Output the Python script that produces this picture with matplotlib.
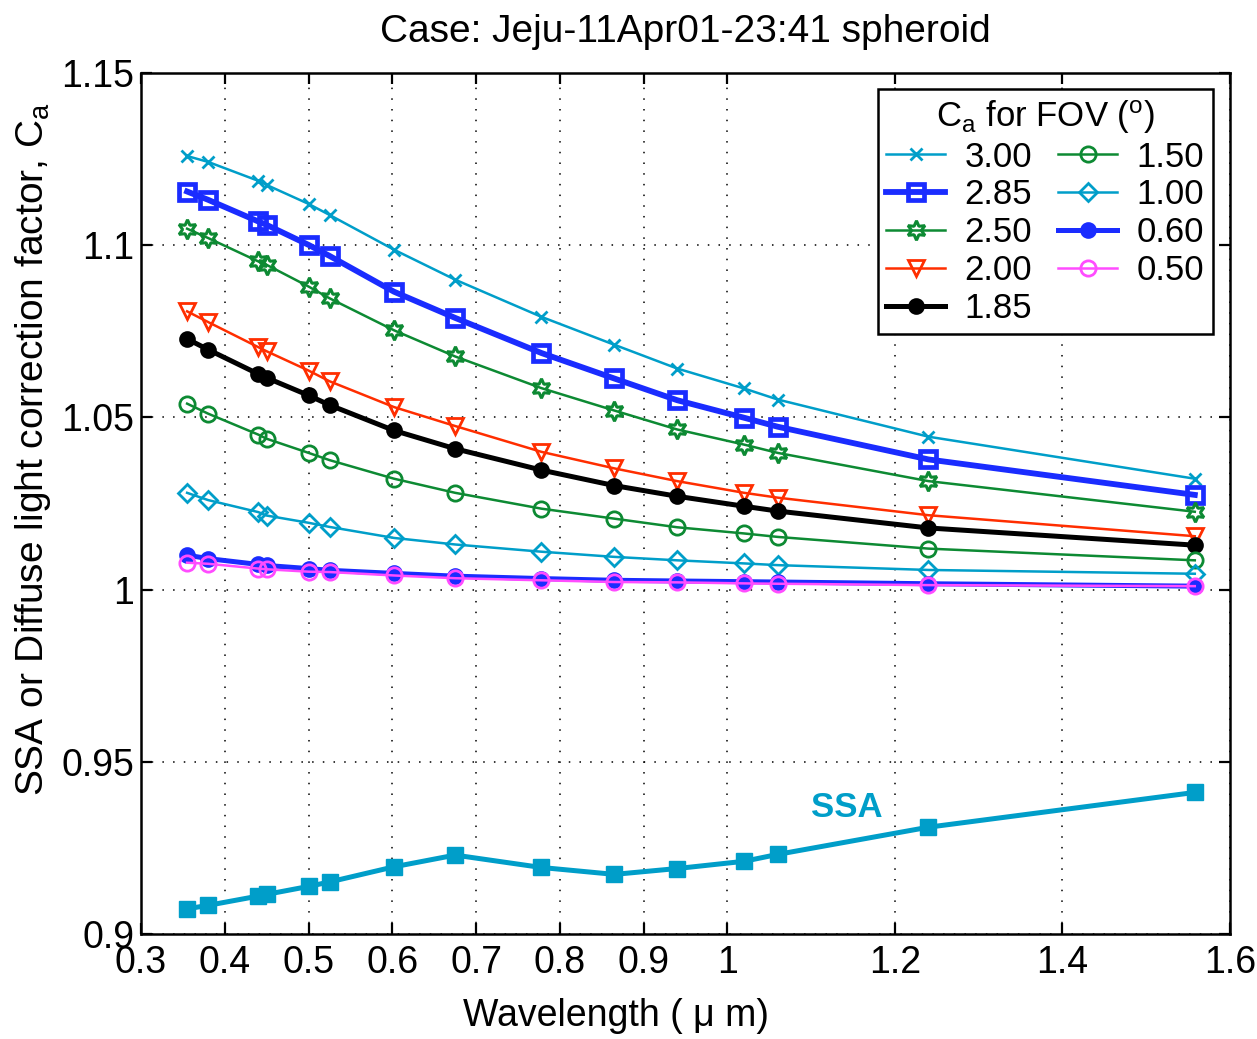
import matplotlib
matplotlib.use('Agg')
import matplotlib.pyplot as plt

plt.rcParams['font.family'] = ['Liberation Sans', 'DejaVu Sans']
plt.rcParams['mathtext.fontset'] = 'custom'
plt.rcParams['mathtext.rm'] = 'Liberation Sans'
plt.rcParams['mathtext.it'] = 'Liberation Sans'

# wavelengths (um)
wavelength = [0.355, 0.38, 0.44, 0.45, 0.5, 0.525, 0.602, 0.675, 0.778,
              0.865, 0.94, 1.02, 1.06, 1.24, 1.558]

# Ca for each FOV (deg)
ca_300 = [1.1259, 1.1242, 1.1187, 1.1175, 1.1120, 1.1088, 1.0987, 1.0900, 1.0792,
          1.0711, 1.0642, 1.0584, 1.0552, 1.0444, 1.0322]
ca_285 = [1.1156, 1.1132, 1.1069, 1.1059, 1.1001, 1.0969, 1.0865, 1.0789, 1.0687,
          1.0613, 1.0550, 1.0499, 1.0473, 1.0378, 1.0275]
ca_250 = [1.1048, 1.1021, 1.0953, 1.0943, 1.0880, 1.0846, 1.0753, 1.0677, 1.0585,
          1.0520, 1.0465, 1.0421, 1.0397, 1.0315, 1.0226]
ca_200 = [1.0808, 1.0777, 1.0704, 1.0692, 1.0636, 1.0605, 1.0530, 1.0475, 1.0400,
          1.0352, 1.0315, 1.0281, 1.0267, 1.0216, 1.0155]
ca_185 = [1.0728, 1.0697, 1.0626, 1.0615, 1.0564, 1.0536, 1.0462, 1.0409, 1.0347,
          1.0302, 1.0271, 1.0242, 1.0228, 1.0179, 1.0129]
ca_150 = [1.0540, 1.0511, 1.0450, 1.0438, 1.0397, 1.0376, 1.0322, 1.0281, 1.0235,
          1.0206, 1.0181, 1.0163, 1.0153, 1.0119, 1.0085]
ca_100 = [1.0281, 1.0260, 1.0225, 1.0215, 1.0194, 1.0182, 1.0150, 1.0131, 1.0110,
          1.0095, 1.0085, 1.0076, 1.0071, 1.0057, 1.0046]
ca_060 = [1.0100, 1.0090, 1.0073, 1.0070, 1.0061, 1.0056, 1.0047, 1.0039, 1.0032,
          1.0027, 1.0025, 1.0023, 1.0022, 1.0017, 1.0010]
ca_050 = [1.0078, 1.0075, 1.0061, 1.0059, 1.0052, 1.0051, 1.0041, 1.0033, 1.0027,
          1.0022, 1.0021, 1.0018, 1.0017, 1.0013, 1.0010]

ssa = [0.9073, 0.9083, 0.9110, 0.9115, 0.9138, 0.9151, 0.9195, 0.9229, 0.9193,
       0.9173, 0.9190, 0.9211, 0.9231, 0.9310, 0.9411]

xticks = [0.3, 0.4, 0.5, 0.6, 0.7, 0.8, 0.9, 1.0, 1.2, 1.4, 1.6]
xticklabels = ['0.3', '0.4', '0.5', '0.6', '0.7', '0.8', '0.9', '1', '1.2', '1.4', '1.6']
yticks = [0.9, 0.95, 1.0, 1.05, 1.1, 1.15]
yticklabels = ['0.9', '0.95', '1', '1.05', '1.1', '1.15']

CYAN = '#009ec9'
BLUE = '#1a2cff'
GREEN = '#0d8a33'
RED = '#ff2e00'
MAG = '#ff4cff'

fig = plt.figure(figsize=(12.57, 10.39), dpi=100, facecolor='white')
ax = fig.add_axes([0.1122, 0.1011, 0.8663, 0.8286])

# series: label, data, color, marker, line width, marker size, edge width, filled
series = [
    ('3.00', ca_300, CYAN, 'x', 1.8, 9, 2.0, True),
    ('2.85', ca_285, BLUE, 's', 4.2, 11, 3.4, False),
    ('2.50', ca_250, GREEN, (6, 1, 0), 1.8, 14, 2.2, False),
    ('2.00', ca_200, RED, 'v', 1.8, 12, 2.0, False),
    ('1.85', ca_185, 'black', 'o', 3.6, 10, 2.0, True),
    ('1.50', ca_150, GREEN, 'o', 1.8, 11, 2.0, False),
    ('1.00', ca_100, CYAN, 'D', 1.8, 9, 2.0, False),
    ('0.60', ca_060, BLUE, 'o', 3.6, 10, 2.0, True),
    ('0.50', ca_050, MAG, 'o', 1.8, 11, 2.0, False),
]

for lab, vals, col, mk, lw, ms, mew, filled in series:
    ax.plot(wavelength, vals, color=col, lw=lw, marker=mk, ms=ms,
            mfc=col if filled else 'none', mec=col, mew=mew, label=lab)

ax.plot(wavelength, ssa, color=CYAN, lw=3.6, marker='s', ms=11, mfc=CYAN, mec=CYAN)
ax.text(1.143, 0.9366, 'SSA', color=CYAN, fontsize=25, fontweight='bold',
        ha='center', va='center')

ax.set_xlim(0.3, 1.6)
ax.set_ylim(0.9, 1.15)
ax.set_xticks(xticks)
ax.set_xticklabels(xticklabels)
ax.set_yticks(yticks)
ax.set_yticklabels(yticklabels)
ax.tick_params(direction='in', top=True, right=True, length=8, width=1.6,
               labelsize=27)
ax.tick_params(axis='x', pad=8)
ax.tick_params(axis='y', pad=5)
for sp in ax.spines.values():
    sp.set_linewidth(1.8)
ax.grid(True, color='black', linestyle=(0, (1, 6)), linewidth=1.1)

ax.set_title('Case: Jeju-11Apr01-23:41 spheroid', fontsize=28, pad=22)
ax.set_xlabel('Wavelength ( \u03bc m)', fontsize=27)
ax.xaxis.set_label_coords(0.436, -0.074)
ax.set_ylabel(r'SSA or Diffuse light correction factor, C$_\mathregular{a}$',
              fontsize=28)
ax.yaxis.set_label_coords(-0.081, 0.563)

leg = ax.legend(ncol=2, loc='upper right', bbox_to_anchor=(0.984, 0.981),
                borderaxespad=0, fontsize=25, numpoints=1, handlelength=1.7,
                handletextpad=0.55, columnspacing=0.75, labelspacing=0.14,
                fancybox=False, edgecolor='black', framealpha=1,
                title=r'C$_\mathregular{a}$ for FOV ($^\mathregular{o}$)',
                title_fontsize=25, borderpad=0.25)
leg.get_frame().set_linewidth(1.8)

fig.savefig('out.png', dpi=100, facecolor='white')
